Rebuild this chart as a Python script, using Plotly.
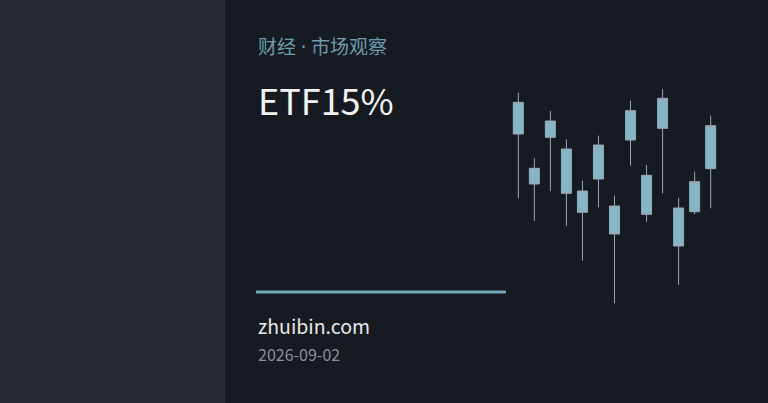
import plotly.graph_objects as go

# candle data (arbitrary price units)
days = list(range(13))
opens = [27.60, 24.17, 27.27, 26.10, 19.77, 23.10, 20.40, 27.00, 23.47, 28.17, 20.20, 19.83, 24.13]
highs = [31.73, 25.17, 29.90, 27.07, 22.93, 27.43, 21.43, 30.93, 24.50, 32.10, 21.23, 23.83, 29.43]
lows = [21.17, 18.90, 21.90, 18.40, 14.93, 20.27, 10.67, 24.43, 18.83, 21.67, 12.50, 19.60, 20.17]
closes = [30.77, 22.60, 28.90, 21.67, 21.90, 26.50, 17.60, 29.93, 19.57, 31.17, 16.40, 22.83, 28.43]

kicker = "财经 · 市场观察"
headline = "ETF15%"
site = "zhuibin.com"
date_text = "2026-09-02"

W, H = 768, 403
BG = "#161a21"
PANEL = "#262a33"
TEAL = "#84b5c8"
WICK = "#9aa8b2"

fig = go.Figure()

fig.add_trace(go.Candlestick(
    x=days, open=opens, high=highs, low=lows, close=closes,
    increasing=dict(line=dict(color=WICK, width=1), fillcolor=TEAL),
    decreasing=dict(line=dict(color=WICK, width=1), fillcolor=TEAL),
    whiskerwidth=0,
    showlegend=False,
    hoverinfo="skip",
))

# left dark panel
fig.add_shape(type="rect", xref="paper", yref="paper", x0=0, x1=225 / W, y0=0, y1=1,
              fillcolor=PANEL, line_width=0, layer="below")
# accent rule under the headline
fig.add_shape(type="line", xref="paper", yref="paper", x0=256 / W, x1=506 / W,
              y0=1 - 292 / H, y1=1 - 292 / H, line=dict(color="#72a6b6", width=3))

cjk = "Noto Sans CJK SC, Noto Sans, sans-serif"
mixed = "Noto Sans, Noto Sans CJK SC, sans-serif"
texts = [
    (kicker, 47, 19, "#6c9db0", mixed),
    (headline, 99, 36, "#f2f2f2", cjk),
    (site, 325, 19.5, "#e8e8e8", cjk),
    (date_text, 354, 16, "#8b9099", cjk),
]
for txt, ypx, size, color, fam in texts:
    fig.add_annotation(x=256 / W, y=1 - ypx / H, xref="paper", yref="paper",
                       text=txt, showarrow=False, xanchor="left", yanchor="middle",
                       font=dict(family=fam, size=size, color=color))

fig.update_layout(
    width=W, height=H,
    margin=dict(l=0, r=0, t=0, b=0),
    paper_bgcolor=BG, plot_bgcolor="rgba(0,0,0,0)",
    boxgap=0.375, boxgroupgap=0,
    xaxis=dict(domain=[(518.3 - 8) / W, (710.7 + 8) / W], range=[-0.5, 12.5],
               visible=False, rangeslider=dict(visible=False), fixedrange=True),
    yaxis=dict(domain=[(H - 310) / H, (H - 80) / H], range=[10, 33],
               visible=False, fixedrange=True),
)

fig.write_html("out.html", config={"displayModeBar": False},
               post_script="document.body.style.margin='0';document.body.style.overflow='hidden';")
